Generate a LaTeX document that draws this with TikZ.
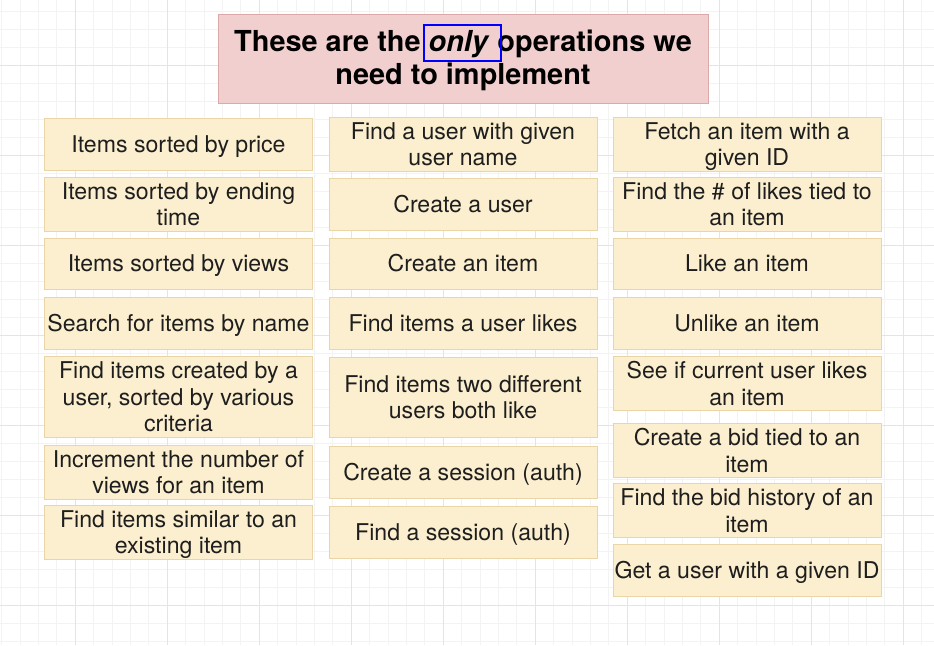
\documentclass[tikz,border=0pt]{standalone}
\usepackage{fontspec}
\setmainfont{TeX Gyre Heros}
\usetikzlibrary{positioning}

\definecolor{opfill}{HTML}{FCEFCF}
\definecolor{opline}{HTML}{E9D5A6}
\definecolor{titlefill}{HTML}{F2CFCF}
\definecolor{titleline}{HTML}{DCA9A9}
\definecolor{optext}{HTML}{1E1E1E}
\definecolor{gridminor}{HTML}{F3F3F3}
\definecolor{gridmajor}{HTML}{E4E4E4}

\tikzset{
	op/.style = {draw=opline, fill=opfill, line width=0.8pt, minimum width=268pt,
		minimum height=52pt, inner sep=0pt, align=center, text=optext,
		font=\fontsize{23.1}{26.5}\selectfont,
		execute at begin node={\rule{0pt}{#1}},
		execute at end node={\rule[-5.5pt]{0pt}{0pt}}},
	op/.default = 22pt,
	op2/.style = {op=48.5pt},
	op3/.style = {op=75pt},
	headbox/.style = {draw=titleline, fill=titlefill, line width=0.8pt, minimum width=490pt,
		minimum height=89pt, inner sep=0pt, align=center, text=black,
		font=\fontsize{28.9}{33}\selectfont\bfseries,
		execute at begin node={\rule{0pt}{59pt}},
		execute at end node={\rule[-6pt]{0pt}{0pt}}}
}

\begin{document}
\begin{tikzpicture}[x=1pt, y=-1pt]
		\useasboundingbox[fill=white] (0,0) rectangle (934,645);
		% background grid
		\foreach \k in {-4,...,46}
			\draw[gridminor, line width=0.6pt] ({75+18.4*\k},0) -- ({75+18.4*\k},645);
		\foreach \k in {-3,...,32}
			\draw[gridminor, line width=0.6pt] (0,{65+18*\k}) -- (934,{65+18*\k});
		\foreach \k in {0,...,9}
			\draw[gridmajor, line width=0.8pt] ({75+92*\k},0) -- ({75+92*\k},645);
		\foreach \k in {0,...,6}
			\draw[gridmajor, line width=0.8pt] (0,{65+90*\k}) -- (934,{65+90*\k});

		\node at (463,58.5) [headbox] (head) {These are the \textit{only} operations we\\need to implement};
		\draw[blue, line width=1.6pt] (424,25) rectangle (501,61);

		% first column
		\node at (178.5,144) [op] (price) {Items sorted by price};
		\node at (178.5,204) [op2] (ending) {Items sorted by ending\\time};
		\node at (178.5,263.5) [op, minimum height=51pt] (views) {Items sorted by views};
		\node at (178.5,323) [op] (search) {Search for items by name};
		\node at (178.5,397) [op3, minimum height=80pt] (created) {Find items created by a\\user, sorted by various\\criteria};
		\node at (178.5,472) [op2] (incr) {Increment the number of\\views for an item};
		\node at (178.5,532) [op2] (similar) {Find items similar to an\\existing item};

		% second column
		\node at (463,144) [op2] (username) {Find a user with given\\user name};
		\node at (463,204) [op] (newuser) {Create a user};
		\node at (463,263.5) [op, minimum height=51pt] (newitem) {Create an item};
		\node at (463,323) [op] (userlikes) {Find items a user likes};
		\node at (463,397) [op2, minimum height=80pt] (bothlike) {Find items two different\\users both like};
		\node at (463,472) [op] (newsession) {Create a session (auth)};
		\node at (463,532) [op] (findsession) {Find a session (auth)};

		% third column
		\node at (747,144) [op2] (fetch) {Fetch an item with a\\given ID};
		\node at (747,204) [op2] (numlikes) {Find the \# of likes tied to\\an item};
		\node at (747,263.5) [op, minimum height=51pt] (like) {Like an item};
		\node at (747,323) [op] (unlike) {Unlike an item};
		\node at (747,383.5) [op2, minimum height=53pt] (curlikes) {See if current user likes\\an item};
		\node at (747,450.5) [op2, minimum height=53pt] (newbid) {Create a bid tied to an\\item};
		\node at (747,510.5) [op2, minimum height=53pt] (bids) {Find the bid history of an\\item};
		\node at (747,570) [op] (getuser) {Get a user with a given ID};
	\end{tikzpicture}
\end{document}
